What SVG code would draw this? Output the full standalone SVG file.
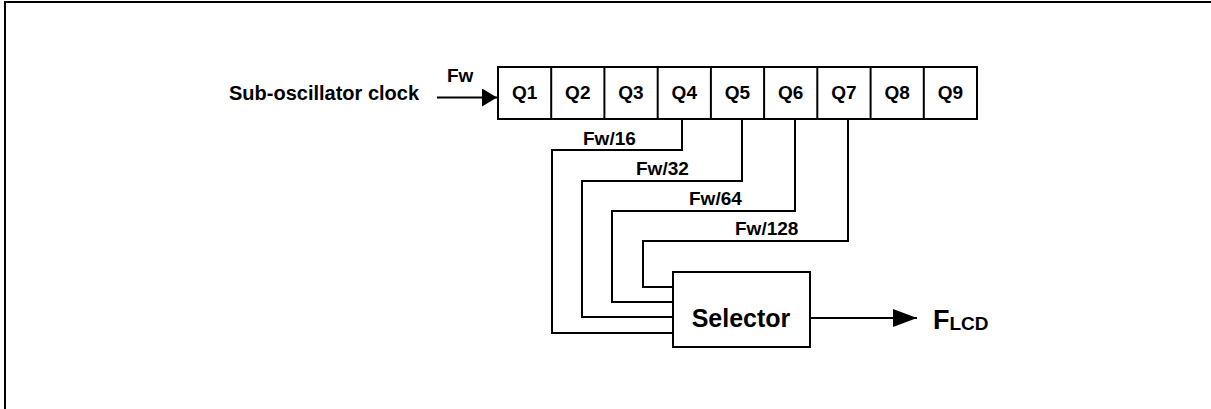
<svg xmlns="http://www.w3.org/2000/svg" width="1211" height="409" viewBox="0 0 1211 409">
  <style>
    .ln { fill: none; stroke: #000; stroke-width: 2; }
    .bx { fill: #fff; stroke: #000; stroke-width: 2; }
    .t { font-family: "Liberation Sans", Arial, sans-serif; font-weight: bold; fill: #000; }
    .s { font-size: 19px; }
    .q { font-size: 19px; text-anchor: middle; }
  </style>
  <defs>
    <marker id="ah" viewBox="0 0 24 18" refX="24" refY="9" markerWidth="24" markerHeight="18" markerUnits="userSpaceOnUse" orient="auto">
      <path d="M0,0 L24,9 L0,18 Z" fill="#000"/>
    </marker>
    <marker id="ah2" viewBox="0 0 15 18" refX="15" refY="9" markerWidth="15" markerHeight="18" markerUnits="userSpaceOnUse" orient="auto">
      <path d="M0,0 L15,9 L0,18 Z" fill="#000"/>
    </marker>
  </defs>
  <rect width="1211" height="409" fill="#fff"/>
  <path class="ln" d="M5,409 V2 H1211" stroke-width="2.5"/>

  <g id="connectors">
    <path class="ln" d="M437,97.5 H497" marker-end="url(#ah2)"/>
    <path class="ln" d="M682,119 V150 H552 V333 H673"/>
    <path class="ln" d="M742,119 V181 H582 V317 H673"/>
    <path class="ln" d="M795,119 V211 H612 V302 H673"/>
    <path class="ln" d="M848,119 V241 H643 V287 H673"/>
    <path class="ln" d="M810,318 H917" marker-end="url(#ah)"/>
    <text class="t s" x="447" y="82">Fw</text>
    <text class="t s" x="583" y="145">Fw/16</text>
    <text class="t s" x="636" y="175">Fw/32</text>
    <text class="t s" x="689" y="205">Fw/64</text>
    <text class="t s" x="735" y="235">Fw/128</text>
  </g>

  <g id="input-label">
    <text class="t" x="229" y="100" font-size="20">Sub-oscillator clock</text>
  </g>

  <g id="counter">
    <rect class="bx" x="498" y="67" width="479" height="52"/>
    <path class="ln" d="M551.2,67 V119 M604.4,67 V119 M657.7,67 V119 M710.9,67 V119 M764.1,67 V119 M817.3,67 V119 M870.6,67 V119 M923.8,67 V119"/>
    <text class="t q" x="524.6" y="99">Q1</text>
    <text class="t q" x="577.8" y="99">Q2</text>
    <text class="t q" x="631" y="99">Q3</text>
    <text class="t q" x="684.3" y="99">Q4</text>
    <text class="t q" x="737.5" y="99">Q5</text>
    <text class="t q" x="790.7" y="99">Q6</text>
    <text class="t q" x="843.9" y="99">Q7</text>
    <text class="t q" x="897.2" y="99">Q8</text>
    <text class="t q" x="950.4" y="99">Q9</text>
  </g>

  <g id="selector">
    <rect class="bx" x="673" y="272" width="137" height="75"/>
    <text class="t" x="741" y="327" font-size="25" text-anchor="middle">Selector</text>
  </g>

  <g id="flcd">
    <text class="t" x="933" y="329" font-size="27">F<tspan font-size="19" dy="1">LCD</tspan></text>
  </g>
</svg>
